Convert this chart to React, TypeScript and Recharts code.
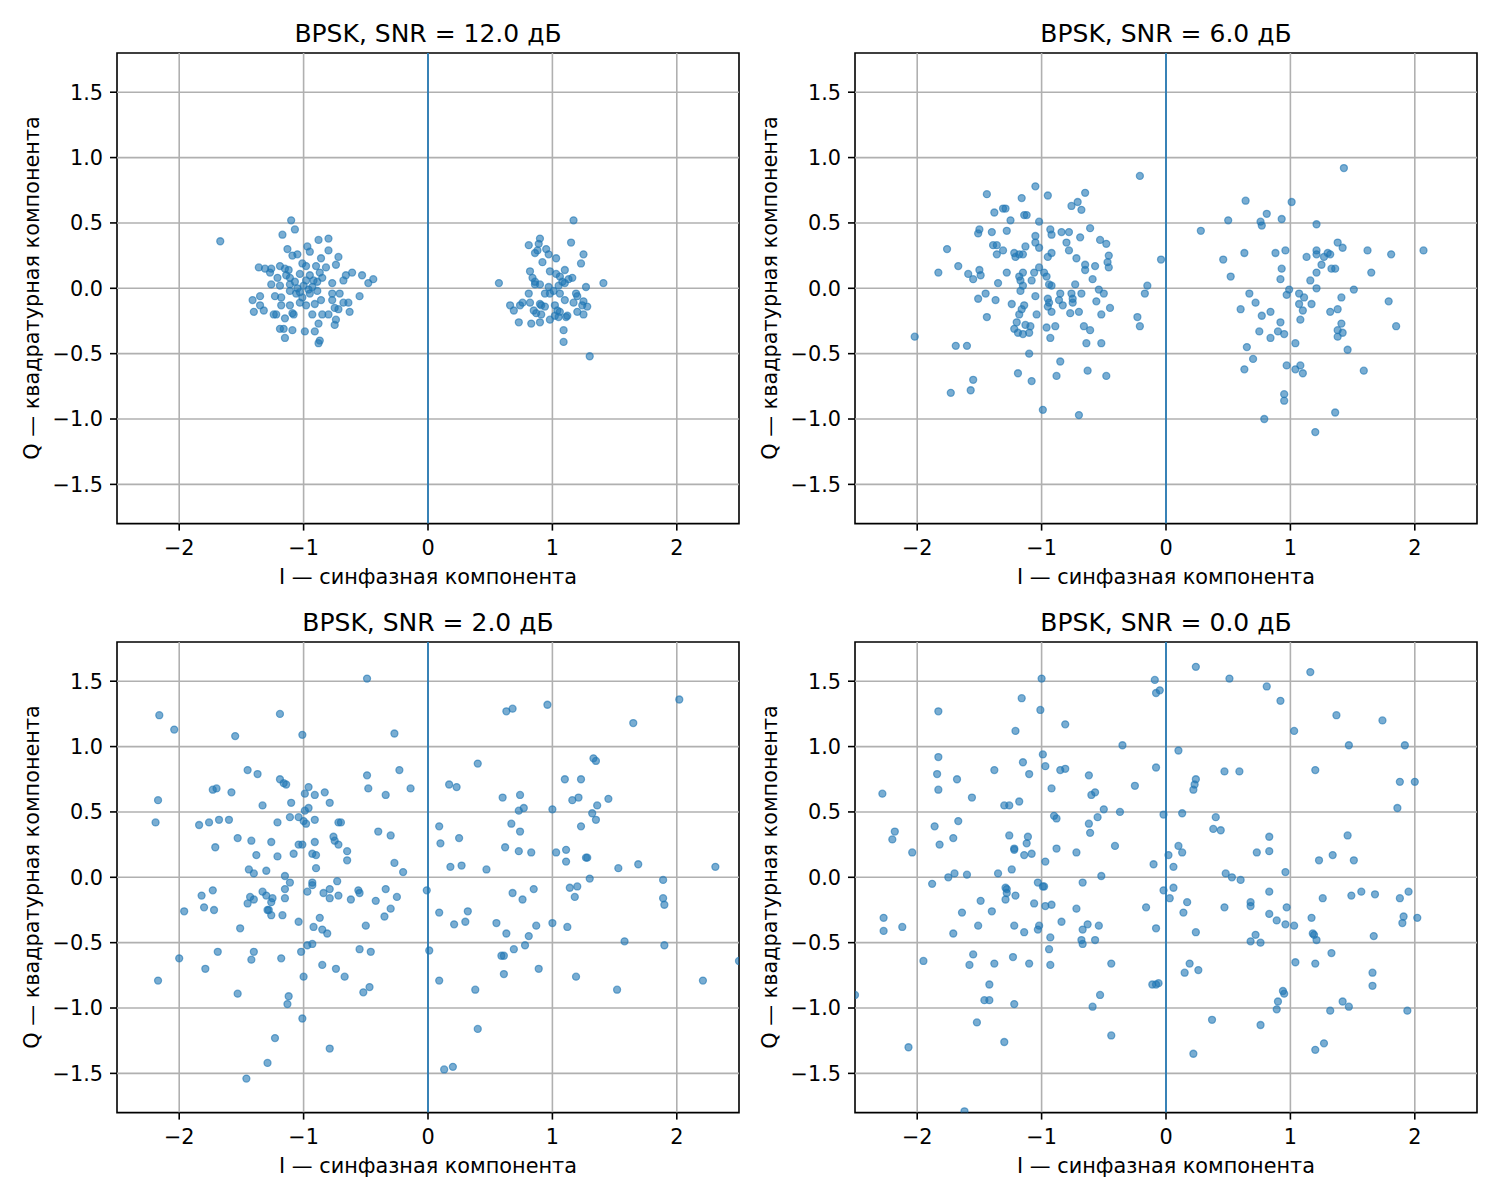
import React from "react";
import {
  ScatterChart,
  Scatter,
  XAxis,
  YAxis,
  ReferenceLine,
  ReferenceArea,
} from "recharts";

type IQ = [number, number];

const X_TICKS = [-2, -1, 0, 1, 2];
const Y_TICKS = [-1.5, -1, -0.5, 0, 0.5, 1, 1.5];
const SNR_DB = ["12.0", "6.0", "2.0", "0.0"];
const X_LABEL = "I — синфазная компонента";
const Y_LABEL = "Q — квадратурная компонента";

const SNR12_POINTS: IQ[] = [
  [-1.67, 0.36], [-1.1, 0.52], [-1.07, 0.45], [-1.17, 0.41], [-0.88, 0.37], [-0.8, 0.38], [-0.8, 0.29],
  [-1.13, 0.3], [-1.09, 0.25], [-1.05, 0.26], [-0.97, 0.32], [-0.95, 0.28], [-0.86, 0.23], [-0.72, 0.24],
  [-1.36, 0.16], [-1.31, 0.15], [-1.26, 0.15], [-1.19, 0.17], [-1.15, 0.15], [-1.12, 0.14], [-1.27, 0.12],
  [-1.01, 0.19], [-0.98, 0.17], [-0.9, 0.17], [-0.82, 0.16], [-0.74, 0.18], [-0.66, 0.1], [-0.61, 0.12],
  [-0.53, 0.1], [-0.44, 0.07], [-0.48, 0.04], [-0.68, 0.06], [-1.03, 0.11], [-0.95, 0.1], [-0.87, 0.12],
  [-0.85, 0.08], [-1.21, 0.08], [-1.11, 0.08], [-1.26, 0.03], [-1.19, 0.02], [-1.07, 0.05], [-0.77, 0.04],
  [-0.89, 0.05], [-0.98, 0.06], [-1.11, -0.02], [-1.06, -0.04], [-0.95, -0.04], [-0.89, -0.02], [-0.77, -0.04],
  [-0.71, -0.04], [-0.55, -0.06], [-1.41, -0.09], [-1.35, -0.06], [-1.23, -0.06], [-1.18, -0.07], [-1.01, -0.07],
  [-1.35, -0.13], [-1.4, -0.18], [-1.32, -0.17], [-1.18, -0.13], [-1.11, -0.13], [-1.03, -0.11], [-0.98, -0.13],
  [-0.91, -0.12], [-0.86, -0.09], [-0.77, -0.09], [-0.68, -0.11], [-0.64, -0.11], [-0.75, -0.15], [-0.72, -0.16],
  [-0.63, -0.18], [-1.24, -0.2], [-1.22, -0.2], [-1.09, -0.19], [-1.08, -0.2], [-0.93, -0.2], [-0.85, -0.2],
  [-0.8, -0.2], [-1.15, -0.23], [-0.74, -0.24], [-0.88, -0.27], [-0.75, -0.28], [-1.19, -0.31], [-1.16, -0.31],
  [-1.09, -0.32], [-0.99, -0.33], [-0.91, -0.33], [-1.15, -0.38], [-0.87, -0.4], [-0.88, -0.42], [-1.03, -0.03],
  [-0.93, 0.01], [-1.11, 0.03], [-1.0, 0.02], [-0.96, -0.01], [-1.05, 0.0], [-0.92, 0.06], [-1.14, 0.1],
  [1.17, 0.52], [0.9, 0.38], [0.89, 0.34], [0.81, 0.33], [0.86, 0.27], [0.88, 0.29], [0.95, 0.3],
  [0.97, 0.26], [0.92, 0.2], [1.03, 0.23], [1.15, 0.35], [1.25, 0.26], [1.23, 0.19], [0.82, 0.13],
  [0.84, 0.08], [0.86, 0.05], [0.86, 0.03], [0.9, 0.03], [0.98, 0.13], [1.03, 0.11], [1.06, 0.09],
  [1.1, 0.14], [1.13, 0.07], [1.16, 0.08], [1.08, 0.05], [1.05, 0.02], [1.1, 0.04], [1.27, 0.01],
  [0.57, 0.04], [1.41, 0.04], [0.97, 0.01], [1.01, -0.02], [0.94, -0.04], [0.98, -0.04], [1.06, -0.04],
  [0.81, -0.04], [1.19, -0.04], [1.2, -0.06], [1.1, -0.09], [1.17, -0.11], [1.25, -0.1], [1.24, -0.13],
  [1.28, -0.14], [0.66, -0.13], [0.69, -0.17], [0.74, -0.13], [0.76, -0.11], [0.82, -0.11], [0.9, -0.12],
  [0.91, -0.13], [0.94, -0.14], [1.02, -0.13], [0.85, -0.17], [0.87, -0.19], [0.91, -0.2], [1.04, -0.17],
  [1.06, -0.18], [1.02, -0.21], [1.05, -0.22], [1.11, -0.22], [1.12, -0.21], [1.2, -0.18], [1.25, -0.2],
  [0.73, -0.26], [0.83, -0.27], [0.9, -0.26], [0.98, -0.24], [1.09, -0.32], [1.09, -0.41], [1.3, -0.52],
];

const SNR6_POINTS: IQ[] = [
  [-0.21, 0.86], [-1.05, 0.78], [-1.44, 0.72], [-0.95, 0.71], [-1.16, 0.69], [-0.65, 0.73], [-0.71, 0.66],
  [-0.76, 0.63], [-0.68, 0.6], [-1.38, 0.58], [-1.31, 0.61], [-1.29, 0.61], [-1.14, 0.56], [-1.12, 0.56],
  [-1.25, 0.52], [-1.02, 0.51], [-1.5, 0.45], [-1.51, 0.42], [-1.4, 0.43], [-1.28, 0.44], [-0.93, 0.45],
  [-0.92, 0.41], [-0.84, 0.43], [-0.78, 0.43], [-0.61, 0.46], [-0.69, 0.39], [-1.05, 0.4], [-1.05, 0.35],
  [-1.02, 0.31], [-0.53, 0.37], [-0.48, 0.34], [-0.8, 0.35], [-0.78, 0.29], [-1.76, 0.3], [-1.39, 0.33],
  [-1.36, 0.33], [-1.31, 0.29], [-1.36, 0.26], [-1.22, 0.27], [-1.13, 0.32], [-1.21, 0.24], [-1.18, 0.26],
  [-1.15, 0.26], [-0.92, 0.27], [-0.95, 0.24], [-0.72, 0.23], [-0.46, 0.25], [-0.47, 0.2], [-0.46, 0.16],
  [-0.65, 0.18], [-0.65, 0.14], [-0.57, 0.17], [-1.83, 0.12], [-1.67, 0.17], [-1.59, 0.11], [-1.5, 0.14],
  [-1.49, 0.1], [-1.55, 0.07], [-1.28, 0.12], [-1.15, 0.12], [-1.18, 0.09], [-1.17, 0.06], [-1.06, 0.12],
  [-1.02, 0.16], [-0.98, 0.12], [-0.96, 0.09], [-1.08, 0.06], [-1.15, 0.02], [-0.94, 0.03], [-0.92, 0.02],
  [-0.73, 0.03], [-0.59, 0.07], [-1.35, 0.04], [-0.15, 0.02], [-0.17, -0.04], [-1.45, -0.04], [-1.51, -0.08],
  [-1.37, -0.09], [-1.24, -0.12], [-1.17, -0.02], [-1.05, -0.06], [-0.95, -0.08], [-0.94, -0.11], [-0.95, -0.14],
  [-0.85, -0.04], [-0.86, -0.09], [-0.83, -0.13], [-0.76, -0.04], [-0.75, -0.08], [-0.75, -0.11], [-0.68, -0.04],
  [-0.54, -0.01], [-0.5, -0.04], [-0.56, -0.1], [-0.7, -0.18], [-0.77, -0.19], [-0.92, -0.18], [-1.04, -0.2],
  [-1.14, -0.13], [-1.16, -0.16], [-1.18, -0.2], [-1.2, -0.26], [-1.22, -0.31], [-1.19, -0.34], [-1.15, -0.35],
  [-1.13, -0.28], [-1.09, -0.29], [-1.1, -0.34], [-0.96, -0.3], [-0.89, -0.29], [-0.93, -0.38], [-0.45, -0.15],
  [-0.52, -0.2], [-0.23, -0.22], [-0.21, -0.29], [-0.66, -0.29], [-0.61, -0.32], [-0.64, -0.42], [-0.52, -0.42],
  [-1.44, -0.22], [-2.02, -0.37], [-1.69, -0.44], [-1.6, -0.44], [-1.1, -0.5], [-0.85, -0.56], [-1.19, -0.65],
  [-1.08, -0.71], [-0.88, -0.67], [-0.63, -0.63], [-0.48, -0.67], [-1.55, -0.7], [-1.57, -0.78], [-1.73, -0.8],
  [-0.99, -0.93], [-0.7, -0.97],
  [1.43, 0.92], [0.64, 0.67], [1.01, 0.66], [0.81, 0.57], [0.5, 0.52], [0.76, 0.51], [0.77, 0.48],
  [0.93, 0.53], [1.21, 0.49], [0.28, 0.44], [-0.04, 0.22], [0.46, 0.22], [0.63, 0.27], [0.88, 0.27],
  [0.96, 0.29], [0.52, 0.09], [0.93, 0.15], [0.92, 0.07], [1.13, 0.24], [1.21, 0.29], [1.21, 0.26],
  [1.25, 0.18], [1.27, 0.24], [1.3, 0.27], [1.32, 0.26], [1.38, 0.35], [1.42, 0.31], [1.33, 0.15],
  [1.36, 0.15], [1.21, 0.12], [1.16, 0.06], [1.21, 0.0], [1.62, 0.29], [1.81, 0.26], [2.07, 0.29],
  [1.65, 0.12], [1.51, -0.01], [0.99, -0.01], [0.97, -0.05], [1.07, -0.04], [1.11, -0.07], [1.07, -0.12],
  [1.17, -0.12], [1.1, -0.17], [1.08, -0.24], [1.32, -0.18], [1.38, -0.16], [1.41, -0.07], [1.79, -0.1],
  [1.85, -0.29], [0.67, -0.04], [0.72, -0.11], [0.6, -0.16], [0.77, -0.21], [0.84, -0.18], [0.92, -0.26],
  [0.9, -0.33], [0.95, -0.35], [0.75, -0.33], [0.84, -0.38], [1.04, -0.42], [1.41, -0.27], [1.38, -0.32],
  [1.42, -0.34], [1.38, -0.37], [1.46, -0.47], [0.65, -0.45], [0.7, -0.54], [0.63, -0.62], [0.97, -0.59],
  [1.04, -0.62], [1.08, -0.59], [1.1, -0.65], [1.59, -0.63], [0.95, -0.81], [0.95, -0.86], [1.36, -0.95],
  [0.79, -1.0], [1.2, -1.1],
];

const SNR2_POINTS: IQ[] = [
  [-0.49, 1.52], [-2.16, 1.24], [-2.04, 1.13], [-1.19, 1.25], [-1.55, 1.08], [-1.01, 1.09], [-0.27, 1.1],
  [-1.45, 0.82], [-1.37, 0.79], [-1.19, 0.75], [-1.16, 0.72], [-1.14, 0.71], [-1.73, 0.67], [-1.7, 0.68],
  [-1.58, 0.65], [-2.17, 0.59], [-1.33, 0.55], [-1.1, 0.57], [-0.99, 0.64], [-0.96, 0.69], [-0.91, 0.63],
  [-0.83, 0.65], [-0.79, 0.57], [-0.49, 0.78], [-0.48, 0.68], [-0.23, 0.82], [-0.34, 0.63], [-0.14, 0.68],
  [-2.19, 0.42], [-1.84, 0.4], [-1.76, 0.42], [-1.68, 0.44], [-1.6, 0.44], [-1.21, 0.42], [-1.11, 0.46],
  [-1.04, 0.46], [-1.0, 0.43], [-0.98, 0.41], [-0.96, 0.53], [-0.99, 0.51], [-0.91, 0.44], [-0.72, 0.42],
  [-0.7, 0.42], [-0.4, 0.35], [-0.3, 0.32], [-1.53, 0.3], [-1.42, 0.28], [-1.26, 0.27], [-1.71, 0.23],
  [-1.04, 0.25], [-1.01, 0.25], [-0.91, 0.27], [-0.76, 0.31], [-0.75, 0.28], [-0.72, 0.25], [-0.65, 0.2],
  [-0.65, 0.13], [-1.38, 0.17], [-1.21, 0.16], [-1.08, 0.18], [-0.93, 0.18], [-0.9, 0.17], [-0.9, 0.07],
  [-0.27, 0.11], [-0.2, 0.04], [-1.44, 0.06], [-1.4, 0.03], [-1.3, 0.05], [-1.15, 0.01], [-1.11, -0.04],
  [-0.93, -0.04], [-0.93, -0.06], [-0.97, -0.11], [-0.84, -0.12], [-0.79, -0.09], [-0.79, -0.16], [-0.73, -0.03],
  [-0.72, -0.14], [-0.62, -0.17], [-0.56, -0.1], [-0.55, -0.12], [-0.34, -0.09], [-0.25, -0.15], [-0.42, -0.18],
  [-0.3, -0.24], [-0.35, -0.3], [-0.01, -0.1], [-1.73, -0.1], [-1.82, -0.14], [-1.8, -0.23], [-1.72, -0.25],
  [-1.96, -0.26], [-1.43, -0.15], [-1.4, -0.17], [-1.45, -0.2], [-1.33, -0.11], [-1.3, -0.14], [-1.25, -0.16],
  [-1.26, -0.19], [-1.29, -0.25], [-1.28, -0.25], [-1.26, -0.29], [-1.15, -0.09], [-1.15, -0.16], [-1.17, -0.29],
  [-1.04, -0.34], [-0.87, -0.31], [-0.92, -0.38], [-0.85, -0.4], [-0.81, -0.43], [-0.5, -0.37], [-1.51, -0.39],
  [-0.93, -0.51], [-0.97, -0.52], [-1.02, -0.57], [-0.55, -0.55], [-0.46, -0.57], [-1.69, -0.57], [-1.4, -0.57],
  [-1.42, -0.63], [-1.18, -0.62], [-2.0, -0.62], [-1.79, -0.7], [-0.85, -0.67], [-0.74, -0.7], [-0.67, -0.76],
  [0.01, -0.56], [-2.17, -0.79], [-1.0, -0.76], [-1.53, -0.89], [-1.12, -0.91], [-1.13, -0.97], [-0.47, -0.84],
  [-0.52, -0.88], [-1.01, -1.08], [-1.23, -1.23], [-0.79, -1.31], [-1.29, -1.42], [-1.46, -1.54],
  [2.02, 1.36], [1.65, 1.18], [0.63, 1.27], [0.68, 1.29], [0.96, 1.32], [0.4, 0.87], [1.33, 0.91],
  [1.35, 0.89], [0.17, 0.71], [0.23, 0.69], [1.1, 0.75], [1.23, 0.75], [0.6, 0.61], [0.74, 0.63],
  [1.16, 0.59], [1.21, 0.61], [1.45, 0.6], [1.36, 0.55], [0.73, 0.51], [0.77, 0.53], [1.0, 0.52],
  [1.32, 0.49], [1.35, 0.44], [1.23, 0.39], [0.09, 0.39], [0.1, 0.26], [0.25, 0.3], [0.67, 0.41],
  [0.74, 0.35], [0.62, 0.23], [0.73, 0.2], [0.83, 0.19], [1.03, 0.19], [1.11, 0.21], [1.11, 0.12],
  [1.27, 0.15], [1.28, 0.15], [0.18, 0.08], [0.27, 0.09], [0.47, 0.06], [1.53, 0.07], [1.69, 0.1],
  [2.31, 0.08], [1.3, -0.01], [1.89, -0.02], [0.68, -0.12], [0.76, -0.17], [0.85, -0.09], [1.14, -0.08],
  [1.2, -0.07], [1.18, -0.15], [1.89, -0.16], [1.9, -0.21], [0.09, -0.27], [0.32, -0.26], [0.21, -0.36],
  [0.3, -0.34], [0.55, -0.35], [0.63, -0.43], [0.87, -0.37], [0.81, -0.45], [1.0, -0.35], [1.12, -0.38],
  [1.58, -0.49], [1.9, -0.52], [0.78, -0.52], [0.69, -0.55], [0.59, -0.6], [0.61, -0.6], [0.61, -0.74],
  [0.89, -0.7], [1.19, -0.76], [1.52, -0.86], [2.21, -0.79], [2.5, -0.64], [0.09, -0.79], [0.38, -0.86],
  [0.4, -1.16], [0.13, -1.47], [0.2, -1.45],
];

const SNR0_POINTS: IQ[] = [
  [-1.0, 1.52], [-0.09, 1.51], [-0.08, 1.41], [-0.05, 1.43], [-1.16, 1.37], [-1.83, 1.27], [-1.01, 1.28],
  [-0.81, 1.17], [-1.21, 1.12], [-0.35, 1.01], [-1.83, 0.92], [-0.99, 0.94], [-0.97, 0.85], [-1.15, 0.88],
  [-1.1, 0.79], [-1.38, 0.82], [-0.85, 0.82], [-0.81, 0.83], [-0.62, 0.78], [-0.08, 0.84], [-1.84, 0.79],
  [-1.68, 0.75], [-1.83, 0.67], [-0.92, 0.68], [-0.25, 0.7], [-0.6, 0.63], [-0.57, 0.65], [-2.28, 0.64],
  [-1.56, 0.61], [-1.3, 0.55], [-1.26, 0.55], [-1.18, 0.58], [-0.5, 0.52], [-0.37, 0.5], [-0.02, 0.48],
  [-0.9, 0.47], [-0.88, 0.45], [-0.55, 0.46], [-0.62, 0.41], [-0.61, 0.34], [-1.67, 0.43], [-1.86, 0.39],
  [-2.18, 0.35], [-2.2, 0.29], [-1.71, 0.3], [-1.82, 0.25], [-2.04, 0.19], [-1.26, 0.32], [-1.11, 0.31],
  [-1.12, 0.26], [-1.22, 0.22], [-1.22, 0.21], [-1.14, 0.17], [-1.08, 0.18], [-0.88, 0.22], [-0.72, 0.19],
  [-0.41, 0.24], [-0.97, 0.12], [-0.1, 0.1], [0.02, 0.17], [-1.75, 0.0], [-1.7, 0.03], [-1.6, 0.02],
  [-1.35, 0.03], [-1.24, 0.06], [-1.88, -0.05], [-1.03, -0.04], [-0.99, -0.07], [-0.98, -0.07], [-0.67, -0.04],
  [-0.52, 0.01], [-1.29, -0.08], [-1.28, -0.09], [-1.28, -0.12], [-1.29, -0.17], [-1.21, -0.14], [-1.49, -0.18],
  [-1.4, -0.26], [-1.64, -0.27], [-1.06, -0.2], [-0.97, -0.22], [-0.92, -0.21], [-0.72, -0.24], [-0.16, -0.23],
  [-0.02, -0.1], [-2.27, -0.31], [-2.27, -0.41], [-2.12, -0.38], [-1.71, -0.43], [-1.51, -0.37], [-1.22, -0.37],
  [-1.14, -0.42], [-1.03, -0.4], [-1.02, -0.37], [-0.93, -0.46], [-0.84, -0.34], [-0.67, -0.4], [-0.63, -0.36],
  [-0.54, -0.37], [-0.57, -0.48], [-0.68, -0.48], [-0.67, -0.51], [-0.08, -0.39], [-0.94, -0.55], [-1.95, -0.64],
  [-1.55, -0.59], [-1.58, -0.67], [-1.38, -0.66], [-1.23, -0.61], [-1.1, -0.66], [-0.93, -0.67], [-0.44, -0.66],
  [-1.42, -0.82], [-1.46, -0.94], [-1.42, -0.94], [-1.22, -0.97], [-0.53, -0.9], [-0.59, -0.99], [-0.11, -0.82],
  [-0.08, -0.82], [-0.06, -0.81], [-2.5, -0.9], [-1.52, -1.11], [-1.3, -1.26], [-0.44, -1.21], [-2.07, -1.3],
  [-1.62, -1.79],
  [0.24, 1.61], [1.16, 1.57], [0.51, 1.52], [0.81, 1.46], [0.92, 1.35], [1.37, 1.24], [1.74, 1.2],
  [1.03, 1.12], [1.47, 1.01], [1.92, 1.01], [0.1, 0.97], [0.47, 0.81], [0.59, 0.81], [1.2, 0.82],
  [0.24, 0.75], [0.23, 0.71], [0.22, 0.67], [1.88, 0.73], [2.0, 0.73], [1.86, 0.53], [0.13, 0.49],
  [0.4, 0.46], [0.38, 0.37], [0.44, 0.36], [0.83, 0.31], [1.46, 0.32], [0.1, 0.24], [0.13, 0.19],
  [0.73, 0.19], [0.83, 0.2], [1.34, 0.17], [1.23, 0.13], [1.51, 0.13], [0.06, 0.08], [0.48, 0.03],
  [0.53, 0.0], [0.6, -0.02], [0.96, 0.04], [0.06, -0.08], [0.03, -0.16], [0.17, -0.19], [0.14, -0.27],
  [0.47, -0.23], [0.68, -0.19], [0.68, -0.22], [0.83, -0.11], [0.83, -0.28], [0.89, -0.33], [0.96, -0.36],
  [0.97, -0.23], [1.03, -0.37], [1.17, -0.31], [1.18, -0.43], [1.19, -0.44], [1.21, -0.48], [1.26, -0.16],
  [1.49, -0.14], [1.57, -0.11], [1.68, -0.13], [1.88, -0.16], [1.95, -0.11], [1.91, -0.3], [1.9, -0.35],
  [2.02, -0.31], [1.67, -0.45], [0.24, -0.42], [0.68, -0.49], [0.72, -0.44], [0.76, -0.5], [1.33, -0.58],
  [1.04, -0.65], [1.2, -0.66], [1.66, -0.73], [1.66, -0.83], [0.19, -0.66], [0.15, -0.73], [0.26, -0.71],
  [0.94, -0.87], [0.95, -0.89], [0.9, -0.95], [0.89, -1.01], [1.42, -0.95], [1.47, -0.99], [1.32, -1.02],
  [1.94, -1.02], [0.37, -1.09], [0.76, -1.13], [1.2, -1.32], [1.27, -1.27], [0.22, -1.35],
];

const SERIES = [SNR12_POINTS, SNR6_POINTS, SNR2_POINTS, SNR0_POINTS];

// plot-area geometry (px, page coords)
const PLOT_W = 622;
const PLOT_H = 470.6;
const PLOT_LEFTS = [117, 855, 117, 855];
const PLOT_TOPS = [52.7, 52.7, 641.7, 641.7];
const AXIS_W = 80;
const AXIS_H = 60;
const PAD = 10;

const FONT = "'DejaVu Sans', sans-serif";
const BLUE = "#1f77b4";
const GRID = "#b0b0b0";
const TICK_STYLE = { fontSize: 20.8, fill: "#000", fontFamily: FONT };

const minus = (s: string) => s.replace("-", "\u2212");
const fmtX = (v: number) => minus(String(v));
const fmtY = (v: number) => minus(v.toFixed(1));

const Dot = (props: any) => (
  <circle
    cx={props.cx}
    cy={props.cy}
    r={3.5}
    fill={BLUE}
    fillOpacity={0.6}
    stroke={BLUE}
    strokeOpacity={0.6}
    strokeWidth={1.3}
  />
);

function Panel({ index }: { index: number }) {
  const data = SERIES[index].map(([i, q]) => ({ i, q }));
  return (
    <div
      style={{
        position: "absolute",
        left: PLOT_LEFTS[index] - AXIS_W,
        top: PLOT_TOPS[index] - PAD,
      }}
    >
      <ScatterChart
        width={AXIS_W + PLOT_W + PAD}
        height={PAD + PLOT_H + AXIS_H}
        margin={{ top: PAD, right: PAD, bottom: 0, left: 0 }}
      >
        <XAxis
          type="number"
          dataKey="i"
          domain={[-2.5, 2.5]}
          ticks={X_TICKS}
          interval={0}
          allowDataOverflow
          height={AXIS_H}
          axisLine={false}
          tickLine={{ stroke: "#000", strokeWidth: 1.6 }}
          tickSize={7}
          tickMargin={10}
          tick={TICK_STYLE}
          tickFormatter={fmtX}
        />
        <YAxis
          type="number"
          dataKey="q"
          domain={[-1.8, 1.8]}
          ticks={Y_TICKS}
          interval={0}
          allowDataOverflow
          width={AXIS_W}
          axisLine={false}
          tickLine={{ stroke: "#000", strokeWidth: 1.6 }}
          tickSize={7}
          tickMargin={7}
          tick={TICK_STYLE}
          tickFormatter={fmtY}
        />
        {X_TICKS.map((t) => (
          <ReferenceLine key={"gx" + t} x={t} stroke={GRID} strokeWidth={1.6} />
        ))}
        {Y_TICKS.map((t) => (
          <ReferenceLine key={"gy" + t} y={t} stroke={GRID} strokeWidth={1.6} />
        ))}
        <Scatter data={data} isAnimationActive={false} shape={Dot} />
        <ReferenceLine x={0} stroke={BLUE} strokeWidth={1.7} />
        <ReferenceArea
          x1={-2.5}
          x2={2.5}
          y1={-1.8}
          y2={1.8}
          fill="none"
          fillOpacity={0}
          stroke="#000"
          strokeWidth={1.6}
          ifOverflow="visible"
        />
      </ScatterChart>
    </div>
  );
}

export default function App() {
  return (
    <div
      style={{
        position: "absolute",
        left: 0,
        top: 0,
        width: 1500,
        height: 1200,
        background: "#fff",
      }}
    >
      {SERIES.map((_, k) => (
        <Panel key={k} index={k} />
      ))}
      <svg
        width={1500}
        height={1200}
        style={{ position: "absolute", left: 0, top: 0, pointerEvents: "none" }}
      >
        {SNR_DB.map((snr, k) => {
          const cx = PLOT_LEFTS[k] + PLOT_W / 2;
          const cy = PLOT_TOPS[k] + PLOT_H / 2;
          return (
            <g key={k} fontFamily={FONT} fill="#000">
              <text x={cx} y={PLOT_TOPS[k] - 11} textAnchor="middle" fontSize={25}>
                {`BPSK, SNR = ${snr} дБ`}
              </text>
              <text x={cx} y={PLOT_TOPS[k] + PLOT_H + 60.5} textAnchor="middle" fontSize={20.8}>
                {X_LABEL}
              </text>
              <text
                x={PLOT_LEFTS[k] - 78}
                y={cy}
                textAnchor="middle"
                fontSize={20.8}
                transform={`rotate(-90, ${PLOT_LEFTS[k] - 78}, ${cy})`}
              >
                {Y_LABEL}
              </text>
            </g>
          );
        })}
      </svg>
    </div>
  );
}
